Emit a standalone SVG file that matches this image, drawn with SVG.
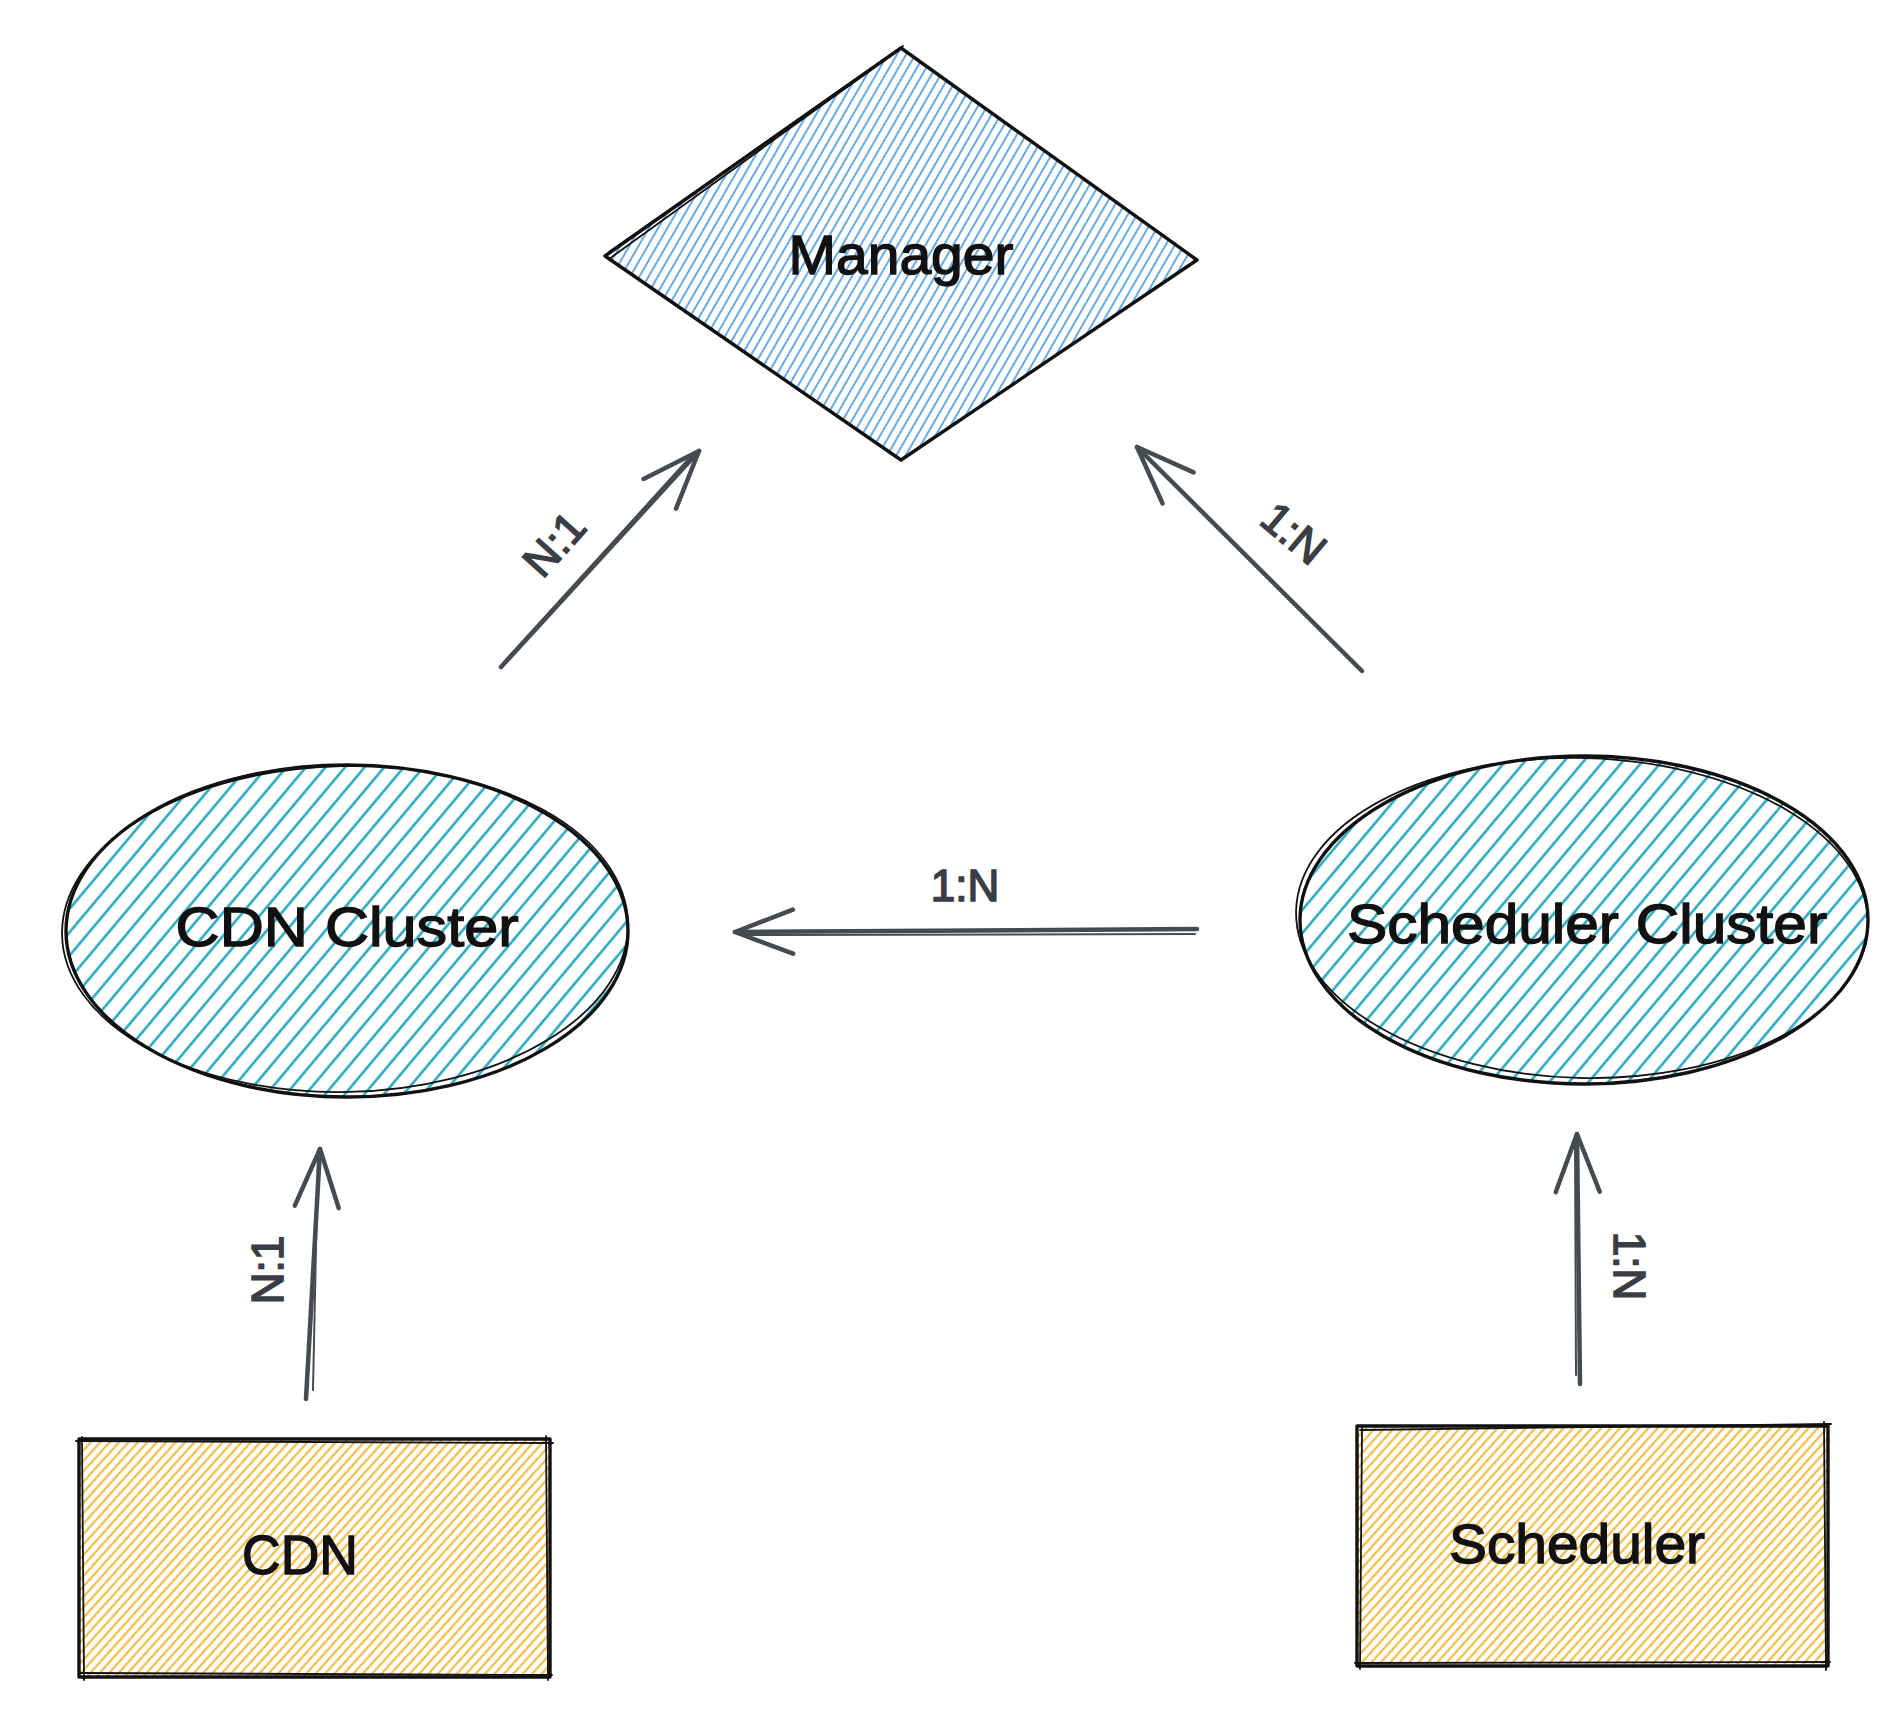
<svg xmlns="http://www.w3.org/2000/svg" width="1896" height="1716" viewBox="0 0 1896 1716">
  <style>
    .outline { fill: none; stroke: #111111; stroke-width: 3.4; stroke-linejoin: round; stroke-linecap: round; }
    .outline2 { fill: none; stroke: #111111; stroke-width: 1.8; stroke-linejoin: round; stroke-linecap: round; }
    .edge { fill: none; stroke: #464b52; stroke-width: 4.5; stroke-linecap: round; }
    .edge2 { fill: none; stroke: #464b52; stroke-width: 2; stroke-linecap: round; }
    .ntext { font-family: "Liberation Sans", Arial, sans-serif; font-size: 56px; fill: #111; stroke: #111; stroke-width: 1.4; text-anchor: middle; }
    .lbl { font-family: "Liberation Sans", Arial, sans-serif; font-size: 44px; fill: #3a3e44; stroke: #3a3e44; stroke-width: 1.6; text-anchor: middle; dominant-baseline: central; }
  </style>
  <defs>
    <pattern id="hBlue" patternUnits="userSpaceOnUse" width="8" height="40" patternTransform="rotate(30)">
      <line x1="4" y1="0" x2="4" y2="40" stroke="#4a9be6" stroke-width="1.7"/>
    </pattern>
    <pattern id="hTeal" patternUnits="userSpaceOnUse" width="15" height="40" patternTransform="rotate(40)">
      <line x1="7.5" y1="0" x2="7.5" y2="40" stroke="#19a3bc" stroke-width="2.4"/>
    </pattern>
    <pattern id="hYellow" patternUnits="userSpaceOnUse" width="7" height="40" patternTransform="rotate(42)">
      <line x1="3.5" y1="0" x2="3.5" y2="40" stroke="#f0ae1c" stroke-width="1.8"/>
    </pattern>
    <marker id="ah" markerUnits="userSpaceOnUse" orient="auto" overflow="visible" markerWidth="1" markerHeight="1" refX="0" refY="0">
      <path d="M-58,-22 L0,0 L-58,22" fill="none" stroke="#464b52" stroke-width="4.5" stroke-linecap="round" stroke-linejoin="round"/>
    </marker>
  </defs>
  <rect width="1896" height="1716" fill="#ffffff"/>

  <g id="manager">
    <polygon points="901,48 1197,260 901,460 605,256" fill="url(#hBlue)"/>
    <polygon class="outline" points="901,48 1197,260 901,460 605,256"/>
    <path class="outline2" d="M897,51 L609,259 L898,458 M903,46 L609,252"/>
    <text class="ntext" x="901" y="274" textLength="225" lengthAdjust="spacingAndGlyphs">Manager</text>
  </g>

  <g id="cdn-cluster">
    <ellipse cx="347" cy="931" rx="281" ry="166" fill="url(#hTeal)"/>
    <ellipse class="outline" cx="347" cy="931" rx="281" ry="166"/>
    <ellipse class="outline2" cx="345" cy="929" rx="283" ry="163" transform="rotate(-1.2 345 929)"/>
    <text class="ntext" x="347" y="946" textLength="343" lengthAdjust="spacingAndGlyphs">CDN Cluster</text>
  </g>

  <g id="scheduler-cluster">
    <ellipse cx="1584" cy="920" rx="284" ry="164" fill="url(#hTeal)"/>
    <ellipse class="outline" cx="1584" cy="920" rx="284" ry="164"/>
    <ellipse class="outline2" cx="1582" cy="918" rx="286" ry="160" transform="rotate(1.5 1582 918)"/>
    <text class="ntext" x="1587" y="943" textLength="480" lengthAdjust="spacingAndGlyphs">Scheduler Cluster</text>
  </g>

  <g id="cdn">
    <rect x="79" y="1439" width="471" height="238" fill="url(#hYellow)"/>
    <rect class="outline" x="79" y="1439" width="471" height="238"/>
    <path class="outline2" d="M76,1441 L553,1443 M82,1437 L84,1680 M546,1436 L548,1680 M80,1673 L552,1675"/>
    <text class="ntext" x="300" y="1574" textLength="116" lengthAdjust="spacingAndGlyphs">CDN</text>
  </g>

  <g id="scheduler">
    <rect x="1357" y="1426" width="471" height="240" fill="url(#hYellow)"/>
    <rect class="outline" x="1357" y="1426" width="471" height="240"/>
    <path class="outline2" d="M1360,1430 L1831,1424 M1362,1428 L1360,1669 M1824,1422 L1826,1670 M1355,1663 L1830,1662"/>
    <text class="ntext" x="1577" y="1563" textLength="256" lengthAdjust="spacingAndGlyphs">Scheduler</text>
  </g>

  <g id="connectors">
    <path class="edge" d="M306,1399 L320,1149" marker-end="url(#ah)"/>
    <path class="edge2" d="M313,1390 L318,1152"/>
    <path class="edge" d="M1580,1384 L1577,1134" marker-end="url(#ah)"/>
    <path class="edge2" d="M1576,1375 L1575,1138"/>
    <path class="edge" d="M1197,929 L735,932" marker-end="url(#ah)"/>
    <path class="edge2" d="M1195,934 L740,935"/>
    <path class="edge" d="M501,667 L699,451" marker-end="url(#ah)"/>
    <path class="edge2" d="M504,662 L692,455"/>
    <path class="edge" d="M1362,671 L1137,447" marker-end="url(#ah)"/>
    <path class="edge2" d="M1358,668 L1141,452"/>
    <text class="lbl" transform="translate(267,1270) rotate(-90)">N:1</text>
    <text class="lbl" transform="translate(1629,1266) rotate(90)">1:N</text>
    <text class="lbl" x="965" y="885">1:N</text>
    <text class="lbl" transform="translate(554,544) rotate(-48)">N:1</text>
    <text class="lbl" transform="translate(1294,533) rotate(40)">1:N</text>
  </g>
</svg>
